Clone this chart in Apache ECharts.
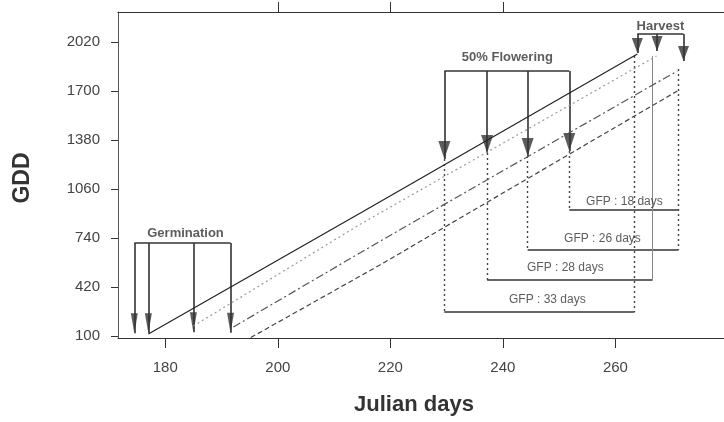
<!DOCTYPE html>
<html>
<head>
<meta charset="utf-8">
<script src="https://cdn.jsdelivr.net/npm/echarts@6/dist/echarts.min.js"></script>
<style>
  html, body { margin: 0; padding: 0; background: #fff; }
  #main { width: 724px; height: 422px; }
</style>
</head>
<body>
<div id="main"></div>
<script>
// GDD curves (Julian day, GDD)
const solidDays = [177.0, 215.0, 263.9];
const solidGdd = [113, 910, 1942];
const dottedDays = [185.0, 214.7, 267.3];
const dottedGdd = [165, 831, 1929];
const dashDotDays = [192.1, 218.2, 271.0];
const dashDotGdd = [159, 720, 1831];
const dashedDays = [195.2, 218.2, 271.0];
const dashedGdd = [90, 565, 1700];

// axis ticks
const xTicks = [180, 200, 220, 240, 260];
const xTopTicks = [200, 220, 240];
const yTicks = [100, 420, 740, 1060, 1380, 1700, 2020];

// stage markers
const germDays = [174.5, 177.0, 185.0, 191.6];
const germTipGdd = [118, 118, 125, 122];
const germBarGdd = 707;
const flowerDays = [229.6, 237.2, 244.4, 251.8];
const flowerTipGdd = [1256, 1295, 1276, 1308];
const flowerBarGdd = 1831;
const harvestDays = [263.9, 267.4, 272.1];
const harvestTipGdd = [1948, 1961, 1896];
const harvestBarGdd = 2072;

const stageLabels = ['Germination', '50% Flowering', 'Harvest'];
const stageLabelDays = [183.6, 240.8, 268.0];
const stageLabelGdd = [773, 1922, 2124];

// grain filling period brackets
const gfpLabels = ['GFP : 18 days', 'GFP : 26 days', 'GFP : 28 days', 'GFP : 33 days'];
const gfpStart = [251.8, 244.4, 237.2, 229.6];
const gfpEnd = [271.2, 271.2, 266.6, 263.4];
const gfpGdd = [923, 662, 466, 257];
const gfpLabelDays = [261.6, 257.7, 251.1, 247.9];
const gfpLabelGdd = [975, 733, 544, 335];
// right-hand drops from harvest down to the brackets
const dropDays = [263.4, 271.2];
const dropTopGdd = [1929, 1844];
const dropBottomGdd = [257, 662];
const greyDropDay = 266.6;
const greyDropTop = 1929;
const greyDropBottom = 466;

const chart = echarts.init(document.getElementById('main'), null, { renderer: 'canvas' });

const zip = (xs, ys) => xs.map((x, i) => [x, ys[i]]);
const ink = '#333';
const font = 'Liberation Sans, Arial, sans-serif';

// bars + shafts (solid)
const solidSegs = [];
function addBracket(days, tips, barY) {
  solidSegs.push({ coords: [[days[0], barY], [days[days.length - 1], barY]] });
  days.forEach((d, i) => solidSegs.push({ coords: [[d, barY], [d, tips[i]]] }));
}
addBracket(germDays, germTipGdd, germBarGdd);
addBracket(flowerDays, flowerTipGdd, flowerBarGdd);
addBracket(harvestDays, harvestTipGdd, harvestBarGdd);
gfpStart.forEach((s, i) => solidSegs.push({ coords: [[s, gfpGdd[i]], [gfpEnd[i], gfpGdd[i]]] }));

// dotted drops
const dotSegs = [];
flowerDays.forEach((d, i) => dotSegs.push({ coords: [[d, flowerTipGdd[i]], [d, gfpGdd[3 - i]]] }));
dropDays.forEach((d, i) => dotSegs.push({ coords: [[d, dropTopGdd[i]], [d, dropBottomGdd[i]]] }));

const textData = stageLabels.map((t, i) => [stageLabelDays[i], stageLabelGdd[i], t]);
const gfpText = gfpLabels.map((t, i) => [gfpLabelDays[i], gfpLabelGdd[i], t]);

const head = 'path://M0,0L10,0L5,14Z';

const option = {
  animation: false,
  backgroundColor: '#fff',
  grid: { left: 118, right: 0, top: 12, bottom: 84 },
  xAxis: [
    {
      type: 'value', min: 171.6, max: 279.3,
      axisLine: { lineStyle: { color: ink, width: 1.2 } },
      axisTick: { customValues: xTicks, length: 10, lineStyle: { color: ink } },
      axisLabel: { customValues: xTicks, margin: 22, color: '#444', fontSize: 15, fontFamily: font },
      splitLine: { show: false }
    },
    {
      type: 'value', position: 'top', min: 171.6, max: 279.3,
      axisLine: { lineStyle: { color: ink, width: 1.2 } },
      axisTick: { customValues: xTopTicks, length: 10, lineStyle: { color: ink } },
      axisLabel: { show: false },
      splitLine: { show: false }
    }
  ],
  yAxis: {
    type: 'value', min: 87, max: 2216,
    axisLine: { show: true, lineStyle: { color: '#555', width: 1 } },
    axisTick: { show: true, customValues: yTicks, length: 7, lineStyle: { color: ink } },
    axisLabel: { customValues: yTicks, margin: 18, color: '#444', fontSize: 15, fontFamily: font,
      formatter: v => String(v) },
    splitLine: { show: false }
  },
  graphic: [
    { type: 'text', x: 23, y: 178, rotation: Math.PI / 2,
      style: { text: 'GDD', font: 'bold 23px ' + font, fill: ink, align: 'center', verticalAlign: 'middle' } },
    { type: 'text', x: 414, y: 405,
      style: { text: 'Julian days', font: 'bold 22px ' + font, fill: ink, align: 'center', verticalAlign: 'middle' } }
  ],
  series: [
    { type: 'line', data: zip(solidDays, solidGdd), symbol: 'none',
      lineStyle: { color: '#222', width: 1.2 } },
    { type: 'line', data: zip(dottedDays, dottedGdd), symbol: 'none',
      lineStyle: { color: '#999', width: 1.2, type: [2, 3] } },
    { type: 'line', data: zip(dashDotDays, dashDotGdd), symbol: 'none',
      lineStyle: { color: '#555', width: 1.2, type: [8, 3, 2, 3] } },
    { type: 'line', data: zip(dashedDays, dashedGdd), symbol: 'none',
      lineStyle: { color: '#444', width: 1.2, type: [5, 3] } },
    { type: 'lines', coordinateSystem: 'cartesian2d', data: solidSegs,
      lineStyle: { color: ink, width: 1.6, opacity: 1 } },
    { type: 'lines', coordinateSystem: 'cartesian2d', data: dotSegs,
      lineStyle: { color: '#444', width: 1.4, type: [2, 3], opacity: 1 } },
    { type: 'lines', coordinateSystem: 'cartesian2d',
      data: [{ coords: [[greyDropDay, greyDropTop], [greyDropDay, greyDropBottom]] }],
      lineStyle: { color: '#888', width: 1, opacity: 1 } },
    { type: 'scatter', data: zip(germDays, germTipGdd), symbol: head, symbolSize: [7, 20],
      symbolOffset: [0, '-50%'], itemStyle: { color: ink } },
    { type: 'scatter', data: zip(flowerDays, flowerTipGdd), symbol: head, symbolSize: [12, 18],
      symbolOffset: [0, '-50%'], itemStyle: { color: ink } },
    { type: 'scatter', data: zip(harvestDays, harvestTipGdd), symbol: head, symbolSize: [11, 15],
      symbolOffset: [0, '-50%'], itemStyle: { color: ink } },
    { type: 'scatter', data: textData, symbolSize: 1, itemStyle: { color: 'rgba(0,0,0,0)' },
      label: { show: true, position: 'inside', formatter: p => p.value[2],
        color: ink, fontSize: 13, fontWeight: 'bold', fontFamily: font } },
    { type: 'scatter', data: gfpText, symbolSize: 1, itemStyle: { color: 'rgba(0,0,0,0)' },
      label: { show: true, position: 'inside', formatter: p => p.value[2],
        color: ink, fontSize: 12, fontFamily: font } }
  ]
};
chart.setOption(option);
</script>
</body>
</html>
